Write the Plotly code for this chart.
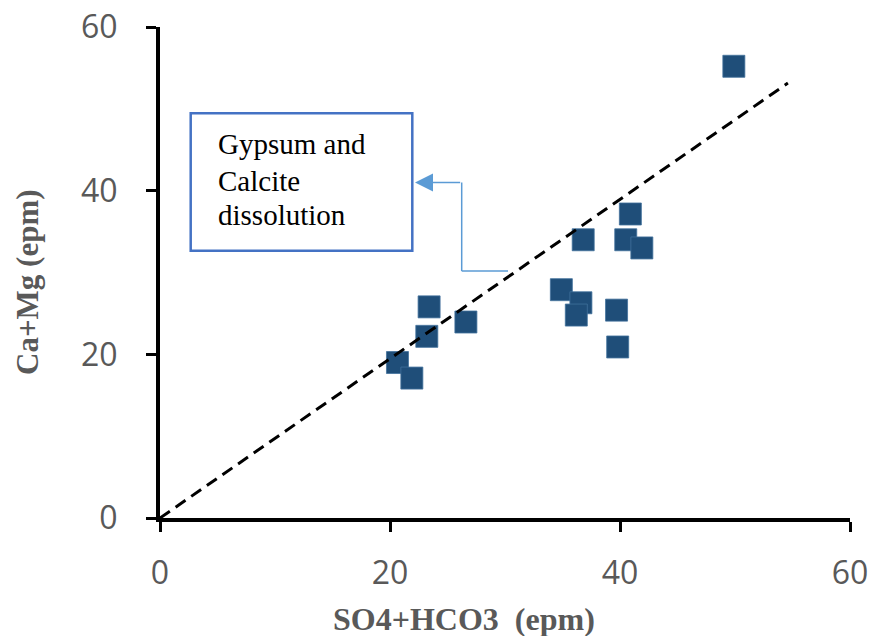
import plotly.graph_objects as go

# ---- data ----
so4_hco3 = [49.9, 40.9, 36.8, 40.5, 41.9, 34.9, 36.6, 36.2, 39.7, 39.8, 23.4, 23.2, 26.6, 20.65, 21.9]
ca_mg = [55.2, 37.15, 34.0, 34.0, 33.0, 27.9, 26.3, 24.8, 25.4, 20.9, 25.8, 22.2, 23.95, 19.0, 17.1]
ref_line_x = [0, 54.6]
ref_line_y = [0, 53.15]
tick_vals = [0, 20, 40, 60]
x_title = "SO4+HCO3\u00a0\u00a0(epm)"
y_title = "Ca+Mg (epm)"
note_lines = ["Gypsum and", "Calcite", "dissolution"]

# ---- layout geometry ----
W, H = 873, 636
L, R, T, B = 160, 23, 27, 118
PW = W - L - R
PH = H - T - B


def fx(px):
    return (px - L) / PW


def fy(py):
    return (H - B - py) / PH


fig = go.Figure()
fig.add_trace(go.Scatter(
    x=so4_hco3, y=ca_mg, mode="markers",
    marker=dict(symbol="square", size=22, color="#1F4E79",
                line=dict(width=0.8, color="#41719C")),
    showlegend=False, hoverinfo="x+y"))
fig.add_trace(go.Scatter(
    x=ref_line_x, y=ref_line_y, mode="lines",
    line=dict(color="black", width=3, dash="12px,7px"),
    showlegend=False, hoverinfo="skip"))

axis_common = dict(
    range=[0, 60], tickvals=tick_vals, showgrid=False, zeroline=False,
    showline=True, linecolor="black", linewidth=4,
    ticks="outside", ticklen=10, tickwidth=3, tickcolor="black",
    tickfont=dict(family="Open Sans", size=32, color="#595959"),
)
fig.update_xaxes(**axis_common, ticklabelstandoff=14)
fig.update_yaxes(**axis_common, ticklabelstandoff=22)

shapes = [
    dict(type="rect", xref="paper", yref="paper",
         x0=fx(190.7), x1=fx(412.3), y0=fy(250.7), y1=fy(113.3),
         line=dict(color="#4472C4", width=2.5), fillcolor="white", layer="above"),
    dict(type="line", xref="paper", yref="paper",
         x0=fx(508), y0=fy(271), x1=fx(461.7), y1=fy(271),
         line=dict(color="#5B9BD5", width=1.5)),
    dict(type="line", xref="paper", yref="paper",
         x0=fx(461.7), y0=fy(271), x1=fx(461.7), y1=fy(182.5),
         line=dict(color="#5B9BD5", width=1.5)),
]

annotations = []
for i, (txt, cy) in enumerate(zip(note_lines, [144, 180.5, 215])):
    annotations.append(dict(
        text=txt, xref="paper", yref="paper", x=fx(216), y=fy(cy),
        xanchor="left", yanchor="middle", showarrow=False,
        font=dict(family="Liberation Serif", size=29, color="black")))
annotations.append(dict(
    text="", xref="paper", yref="paper", x=fx(415), y=fy(182.5),
    ax=46.7, ay=0, showarrow=True, arrowhead=2, arrowsize=2.4,
    arrowwidth=1.5, arrowcolor="#5B9BD5", standoff=0))
annotations.append(dict(
    text="<b>" + x_title + "</b>", xref="paper", yref="paper",
    x=fx(463.5), y=fy(619), xanchor="center", yanchor="middle", showarrow=False,
    font=dict(family="Liberation Serif", size=32, color="#595959")))
annotations.append(dict(
    text="<b>" + y_title + "</b>", xref="paper", yref="paper",
    x=fx(27.5), y=fy(282.5), xanchor="center", yanchor="middle", showarrow=False,
    textangle=-90,
    font=dict(family="Liberation Serif", size=31, color="#595959")))

fig.update_layout(
    width=W, height=H,
    margin=dict(l=L, r=R, t=T, b=B, autoexpand=False),
    plot_bgcolor="white", paper_bgcolor="white",
    shapes=shapes, annotations=annotations,
)

fig.write_html("out.html")
